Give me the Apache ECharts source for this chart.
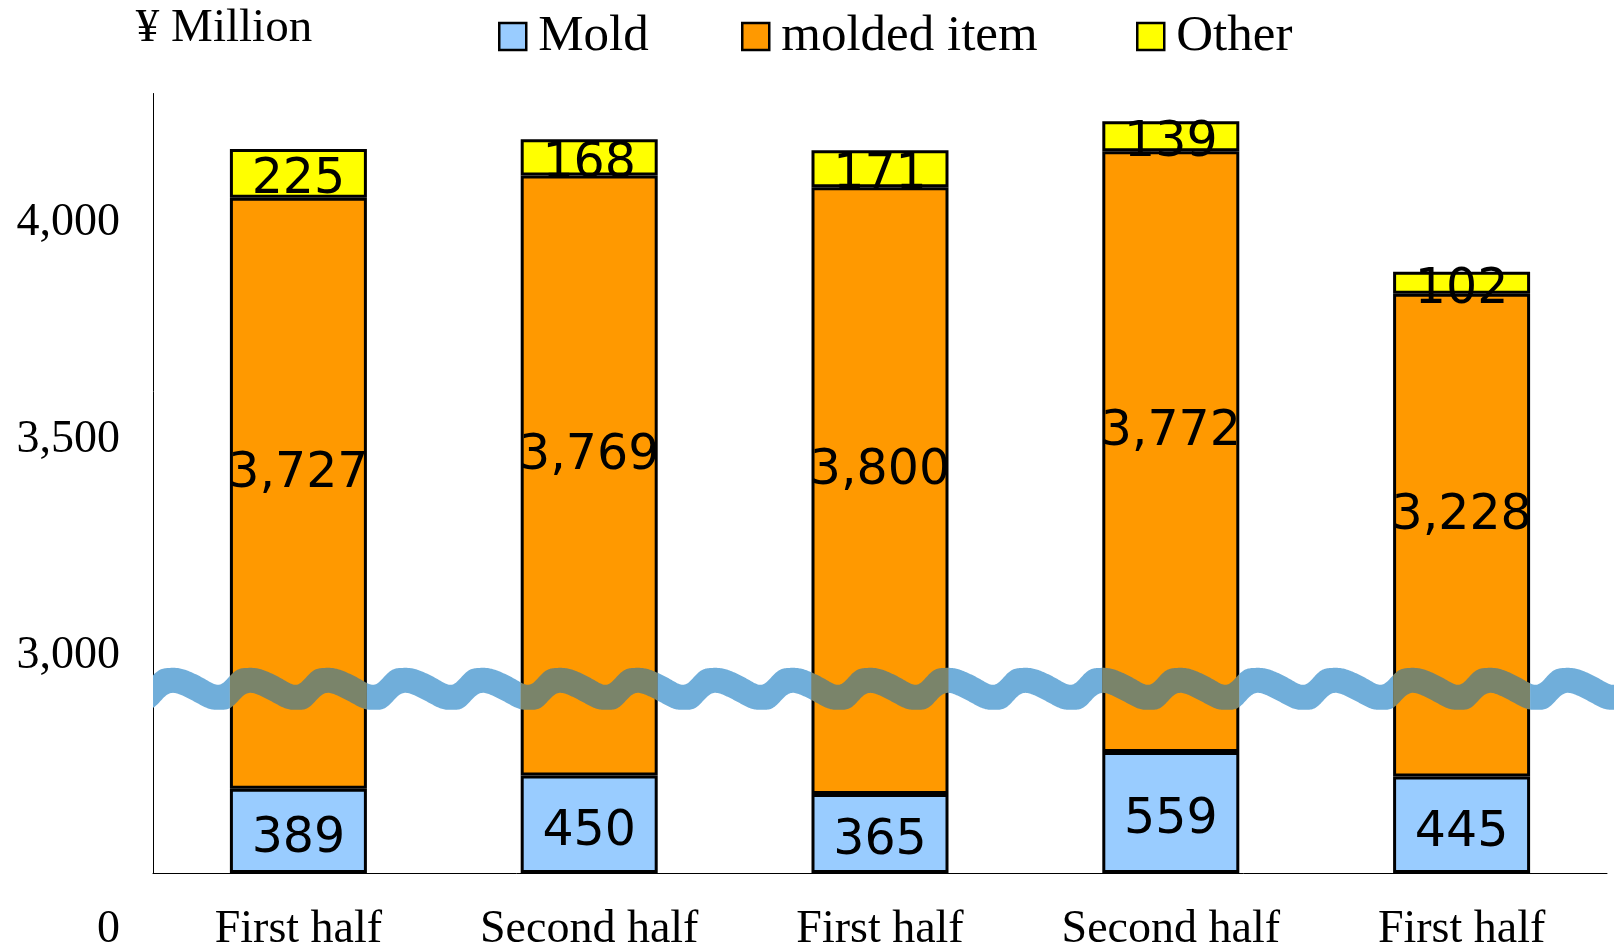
<!DOCTYPE html>
<html>
<head>
<meta charset="utf-8">
<title>Sales by segment</title>
<script src="https://cdn.jsdelivr.net/npm/echarts@6/dist/echarts.min.js"></script>
<style>
  html, body { margin: 0; padding: 0; background: #fff; }
  #chart { width: 1614px; height: 947px; }
</style>
</head>
<body>
<div id="chart"></div>
<script>
// ---- data ----
const categories = ['First half', 'Second half', 'First half', 'Second half', 'First half'];
const seriesNames = ['Mold', 'molded item', 'Other'];
const moldValues = [389, 450, 365, 559, 445];
const moldedItemValues = [3727, 3769, 3800, 3772, 3228];
const otherValues = [225, 168, 171, 139, 102];
const yTickValues = [0, 2000, 3000, 4000];
const yTickLabels = ['0', '3,000', '3,500', '4,000'];
const axisBreak = { start: 850, end: 1850 };
const yMax = 4600;

// ---- styling constants ----
const SERIF = 'Liberation Serif';
const BAR_W = 137;
const COLORS = ['#99CCFF', '#FF9900', '#FFFF00'];
const WAVE_BLUE = '#70AEDA';
const WAVE_OLIVE = '#7A846A';
const WAVE = { period: 77.5, amp: 8.5, width: 25, skew: -0.266, phaseX: 20 };
const LEGEND_LEFT = [493, 736, 1131];

const fmt = v => Number(v).toLocaleString('en-US');

function barSeries(name, data, color, labelOffsetY) {
  return {
    name: name,
    type: 'bar',
    stack: 'total',
    data: data,
    barWidth: BAR_W,
    itemStyle: { color: color, borderColor: '#000', borderWidth: 3 },
    label: {
      show: true,
      position: 'inside',
      offset: [0, labelOffsetY],
      color: '#000',
      fontFamily: 'DejaVu Sans',
      fontSize: 49,
      textBorderWidth: 0,
      formatter: p => fmt(p.value)
    },
    emphasis: { disabled: true }
  };
}

// wavy band that marks the break of the value axis
function waveOffset(x, x0) {
  const t = 2 * Math.PI * (x - x0) / WAVE.period;
  const tp = t + WAVE.skew * (1 - Math.cos(t));
  const dtp = 1 + WAVE.skew * Math.sin(t);
  const y = -WAVE.amp * Math.cos(tp);
  const slope = WAVE.amp * Math.sin(tp) * dtp * 2 * Math.PI / WAVE.period;
  return { y: y, half: WAVE.width / 2 * Math.sqrt(1 + slope * slope) };
}

function band(x1, x2, yc, x0, color) {
  if (x2 <= x1) return null;
  const upper = [], lower = [];
  for (let x = x1; ; x += 1) {
    const xx = Math.min(x, x2);
    const w = waveOffset(xx, x0);
    upper.push([xx, yc + w.y - w.half]);
    lower.push([xx, yc + w.y + w.half]);
    if (xx >= x2) break;
  }
  return {
    type: 'polygon',
    shape: { points: upper.concat(lower.reverse()) },
    style: { fill: color, stroke: null }
  };
}

function renderWave(params, api) {
  const i = api.value(0);
  const cs = params.coordSys;
  const x0 = cs.x + WAVE.phaseX;
  const yc = api.coord([i, api.value(1)])[1];
  const cx = api.coord([i, 0])[0];
  const left = cx - BAR_W / 2;
  const right = cx + BAR_W / 2;
  const nextLeft = i < categories.length - 1
    ? api.coord([i + 1, 0])[0] - BAR_W / 2
    : api.getWidth();
  const children = [];
  if (i === 0) children.push(band(cs.x, left, yc, x0, WAVE_BLUE));
  children.push(band(left, right, yc, x0, WAVE_OLIVE));
  children.push(band(right, nextLeft, yc, x0, WAVE_BLUE));
  return { type: 'group', children: children.filter(Boolean) };
}

const chart = echarts.init(document.getElementById('chart'), null, { renderer: 'canvas' });

const option = {
  animation: false,
  backgroundColor: '#fff',
  grid: { left: 153, right: 7, top: 93, bottom: 74, containLabel: false, outerBoundsMode: 'none' },
  legend: seriesNames.map((name, k) => ({
    data: [name],
    left: LEGEND_LEFT[k],
    top: 6,
    icon: 'rect',
    itemWidth: 27,
    itemHeight: 27,
    itemGap: 0,
    selectedMode: false,
    itemStyle: { borderColor: '#000', borderWidth: 2.5 },
    textStyle: { fontFamily: SERIF, fontSize: 51, color: '#000', padding: [0, 0, 0, 7] }
  })),
  xAxis: {
    type: 'category',
    data: categories,
    axisLine: { show: true, lineStyle: { color: '#000', width: 1 } },
    axisTick: { show: false },
    axisLabel: { interval: 0, fontFamily: SERIF, fontSize: 46, color: '#000', margin: 34 }
  },
  yAxis: {
    type: 'value',
    min: 0,
    max: yMax,
    breaks: [{ start: axisBreak.start, end: axisBreak.end, gap: 0 }],
    breakArea: { show: false },
    axisLine: { show: true, lineStyle: { color: '#000', width: 1 } },
    axisTick: { show: false },
    splitLine: { show: false },
    axisLabel: {
      customValues: yTickValues,
      fontFamily: SERIF,
      fontSize: 46,
      color: '#000',
      margin: 33,
      lineHeight: 57,
      formatter: v => {
        const k = yTickValues.indexOf(v);
        const text = k >= 0 ? yTickLabels[k] : '';
        return v === 0 ? '\n\n' + text : text;
      }
    },
    name: '¥ Million',
    nameLocation: 'end',
    nameGap: 64,
    nameMoveOverlap: false,
    nameTextStyle: {
      fontFamily: SERIF, fontSize: 47, color: '#000',
      align: 'center', verticalAlign: 'middle', padding: [0, 0, 0, 142]
    }
  },
  series: [
    barSeries(seriesNames[0], moldValues, COLORS[0], 8),
    barSeries(seriesNames[1], moldedItemValues, COLORS[1], -19),
    barSeries(seriesNames[2], otherValues, COLORS[2], 7),
    {
      name: 'axis break',
      type: 'custom',
      coordinateSystem: 'cartesian2d',
      silent: true,
      z: 10,
      clip: false,
      encode: { x: 0, y: 1 },
      data: categories.map((c, i) => [i, axisBreak.start]),
      renderItem: renderWave
    }
  ]
};

chart.setOption(option);
</script>
</body>
</html>
